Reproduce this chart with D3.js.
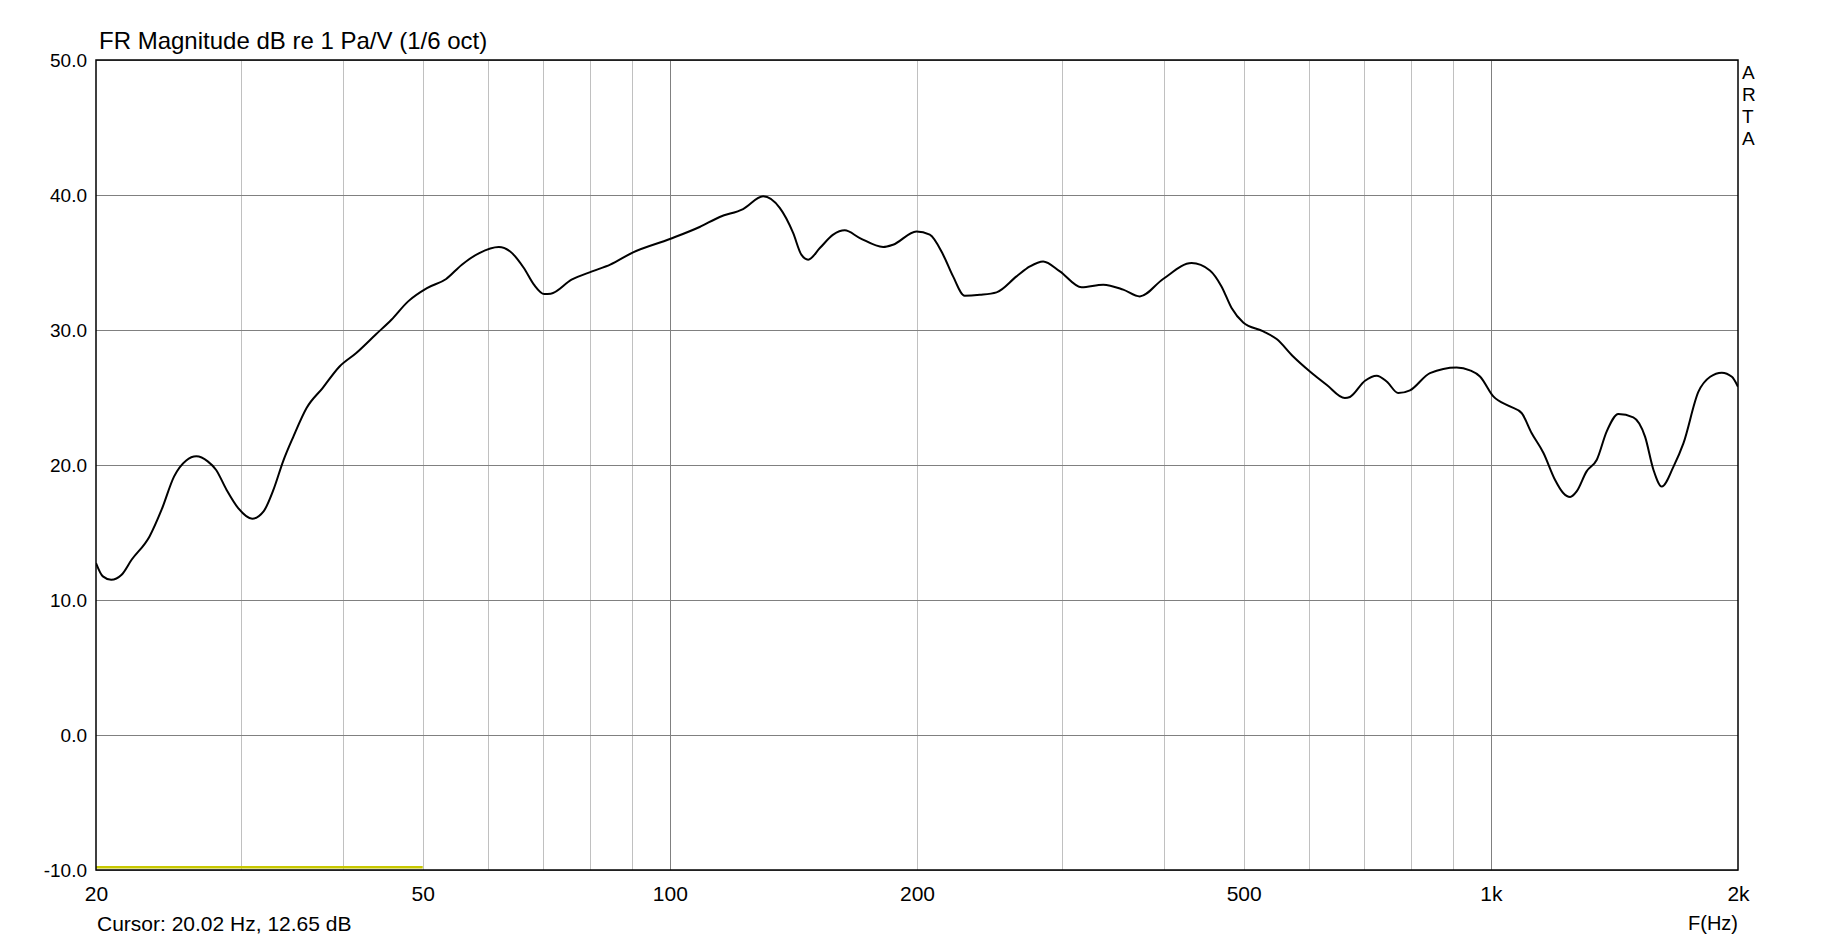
<!DOCTYPE html>
<html>
<head>
<meta charset="utf-8">
<script src="https://cdn.jsdelivr.net/npm/d3@7"></script>
<style>
    body { margin: 0; background: #fff; }
    text { font-family: "Liberation Sans", Arial, sans-serif; fill: #000; }
</style>
</head>
<body>
<div class="chart"></div>
<script>
const freqs = [20.0, 20.39, 20.87, 21.49, 22.1, 23.24, 24.04, 24.9, 25.76, 26.5, 27.36, 28.0, 28.84, 29.8,
    31.0, 32.0, 32.9, 33.8, 34.8, 36.1, 37.76, 39.6, 41.5, 43.8, 45.8, 48.0, 50.6, 53.4, 55.8, 58.6,
    61.9, 63.9, 66.4, 68.3, 70.3, 71.6, 75.9, 80.4, 84.6, 90.2, 100, 108.7, 115, 122.8, 129.9, 136.1,
    141.3, 144.6, 147.4, 152.3, 158.1, 163.3, 170.4, 181.9, 187, 199.7, 207.3, 215.2, 221.3, 228.6,
    238.6, 250, 264.4, 274.5, 284.9, 298.6, 317.3, 337.2, 356.6, 373.6, 398.8, 432, 454.8, 469.8,
    483.3, 499.3, 528.3, 548.4, 574.4, 602, 630.8, 664, 673.5, 702.6, 726, 746.6, 771.2, 797, 843,
    908.4, 943.2, 970, 1007, 1055, 1090, 1121, 1159, 1197, 1225, 1249, 1272, 1308, 1346, 1384, 1430,
    1491, 1541, 1578, 1615, 1669, 1716, 1790, 1850, 1911, 1966, 2000];
const levels = [12.74, 11.75, 11.5, 11.87, 12.98, 14.71, 16.69, 19.16, 20.34, 20.64, 20.27, 19.65, 18.17, 16.81,
    16.02, 16.56, 18.17, 20.27, 22.12, 24.22, 25.7, 27.3, 28.3, 29.65, 30.76, 32.12, 33.1, 33.78, 34.84, 35.7,
    36.15, 35.82, 34.59, 33.36, 32.66, 32.69, 33.73, 34.34, 34.84, 35.75, 36.74, 37.63, 38.37, 38.96, 39.9, 39.04,
    37.19, 35.58, 35.21, 36.07, 37.06, 37.38, 36.81, 36.15, 36.32, 37.3, 37.06, 35.58, 33.97, 32.54,
    32.61, 32.79, 33.97, 34.71, 35.08, 34.34, 33.16, 33.36, 32.99, 32.49, 33.78, 34.96, 34.41, 33.23,
    31.63, 30.56, 29.9, 29.33, 28.04, 26.93, 25.95, 24.96, 25.04, 26.24, 26.61, 26.19, 25.33, 25.53, 26.81,
    27.23, 27.01, 26.56, 25.08, 24.34, 23.85, 22.37, 20.89, 18.91, 17.93, 17.63, 18.04, 19.53, 20.39, 22.49, 23.78,
    23.53, 22.1, 19.63, 18.4, 19.88, 21.6, 25.43, 26.54, 26.84, 26.54, 25.8];

// yellow reference trace along the bottom
const refFreqs = [20, 50];
const refLevels = [-9.8, -9.8];

const yTicks = [-10, 0, 10, 20, 30, 40, 50];
const xGridTicks = [30, 40, 50, 60, 70, 80, 90, 100, 200, 300, 400, 500, 600, 700, 800, 900, 1000];
const xLabelTicks = [20, 50, 100, 200, 500, 1000, 2000];
const xLabelText = ["20", "50", "100", "200", "500", "1k", "2k"];

const W = 1833, H = 942;
const margin = {top: 60, right: 95, bottom: 72, left: 96};
const width = W - margin.left - margin.right;
const height = H - margin.top - margin.bottom;

const svg = d3.select(".chart")
    .append("svg")
    .attr("width", W)
    .attr("height", H);

const g = svg.append("g")
    .attr("transform", "translate(" + margin.left + "," + margin.top + ")");

const xScale = d3.scaleLog().domain([20, 2000]).range([0, width]);
const yScale = d3.scaleLinear().domain([-10, 50]).range([height, 0]);

// vertical grid
const xGrid = g.append("g")
    .attr("transform", "translate(0," + height + ")")
    .call(d3.axisBottom(xScale).tickValues(xGridTicks).tickSize(-height).tickFormat(""));
xGrid.select(".domain").remove();
xGrid.selectAll("line")
    .attr("stroke", d => (d === 100 || d === 1000) ? "#808080" : "#c0c0c0")
    .attr("shape-rendering", "crispEdges");

// horizontal grid
const yGrid = g.append("g")
    .call(d3.axisLeft(yScale).tickValues(yTicks).tickSize(-width).tickFormat(""));
yGrid.select(".domain").remove();
yGrid.selectAll("line")
    .attr("stroke", "#808080")
    .attr("shape-rendering", "crispEdges");

// tick labels (plain hyphen for negatives, like ARTA)
const yAxis = g.append("g")
    .call(d3.axisLeft(yScale).tickValues(yTicks).tickSize(0).tickPadding(9).tickFormat(d => d.toFixed(1)));
yAxis.select(".domain").remove();
yAxis.selectAll("text")
    .attr("font-size", 19)
    .attr("font-family", "Liberation Sans, Arial, sans-serif")
    .attr("fill", "#000");

const xAxis = g.append("g")
    .attr("transform", "translate(0," + height + ")")
    .call(d3.axisBottom(xScale).tickValues(xLabelTicks).tickSize(0).tickPadding(16)
        .tickFormat((d, i) => xLabelText[i]));
xAxis.select(".domain").remove();
xAxis.selectAll("text")
    .attr("font-size", 21)
    .attr("font-family", "Liberation Sans, Arial, sans-serif")
    .attr("fill", "#000");

// clip for traces
g.append("clipPath").attr("id", "plotclip")
    .append("rect").attr("width", width).attr("height", height);

const line = d3.line()
    .x(d => xScale(d[0]))
    .y(d => yScale(d[1]));

g.append("path")
    .datum(d3.zip(refFreqs, refLevels))
    .attr("fill", "none")
    .attr("stroke", "#c8c800")
    .attr("stroke-width", 2.5)
    .attr("d", line);

g.append("path")
    .datum(d3.zip(freqs, levels))
    .attr("clip-path", "url(#plotclip)")
    .attr("fill", "none")
    .attr("stroke", "#000")
    .attr("stroke-width", 2)
    .attr("stroke-linejoin", "round")
    .attr("d", line.curve(d3.curveMonotoneX));

// frame
g.append("rect")
    .attr("width", width)
    .attr("height", height)
    .attr("fill", "none")
    .attr("stroke", "#000")
    .attr("stroke-width", 1.5);

// texts
svg.append("text")
    .attr("x", 99)
    .attr("y", 49)
    .attr("font-size", 24)
    .text("FR Magnitude dB re 1 Pa/V (1/6 oct)");

svg.append("text")
    .attr("x", margin.left + 1)
    .attr("y", 931)
    .attr("font-size", 21)
    .text("Cursor: 20.02 Hz, 12.65 dB");

svg.append("text")
    .attr("x", margin.left + width)
    .attr("y", 930)
    .attr("text-anchor", "end")
    .attr("font-size", 20)
    .text("F(Hz)");

svg.append("g")
    .selectAll("text")
    .data(["A", "R", "T", "A"])
    .enter()
    .append("text")
    .attr("x", margin.left + width + 4)
    .attr("y", (d, i) => 79 + i * 22)
    .attr("font-size", 19)
    .text(d => d);
</script>
</body>
</html>
